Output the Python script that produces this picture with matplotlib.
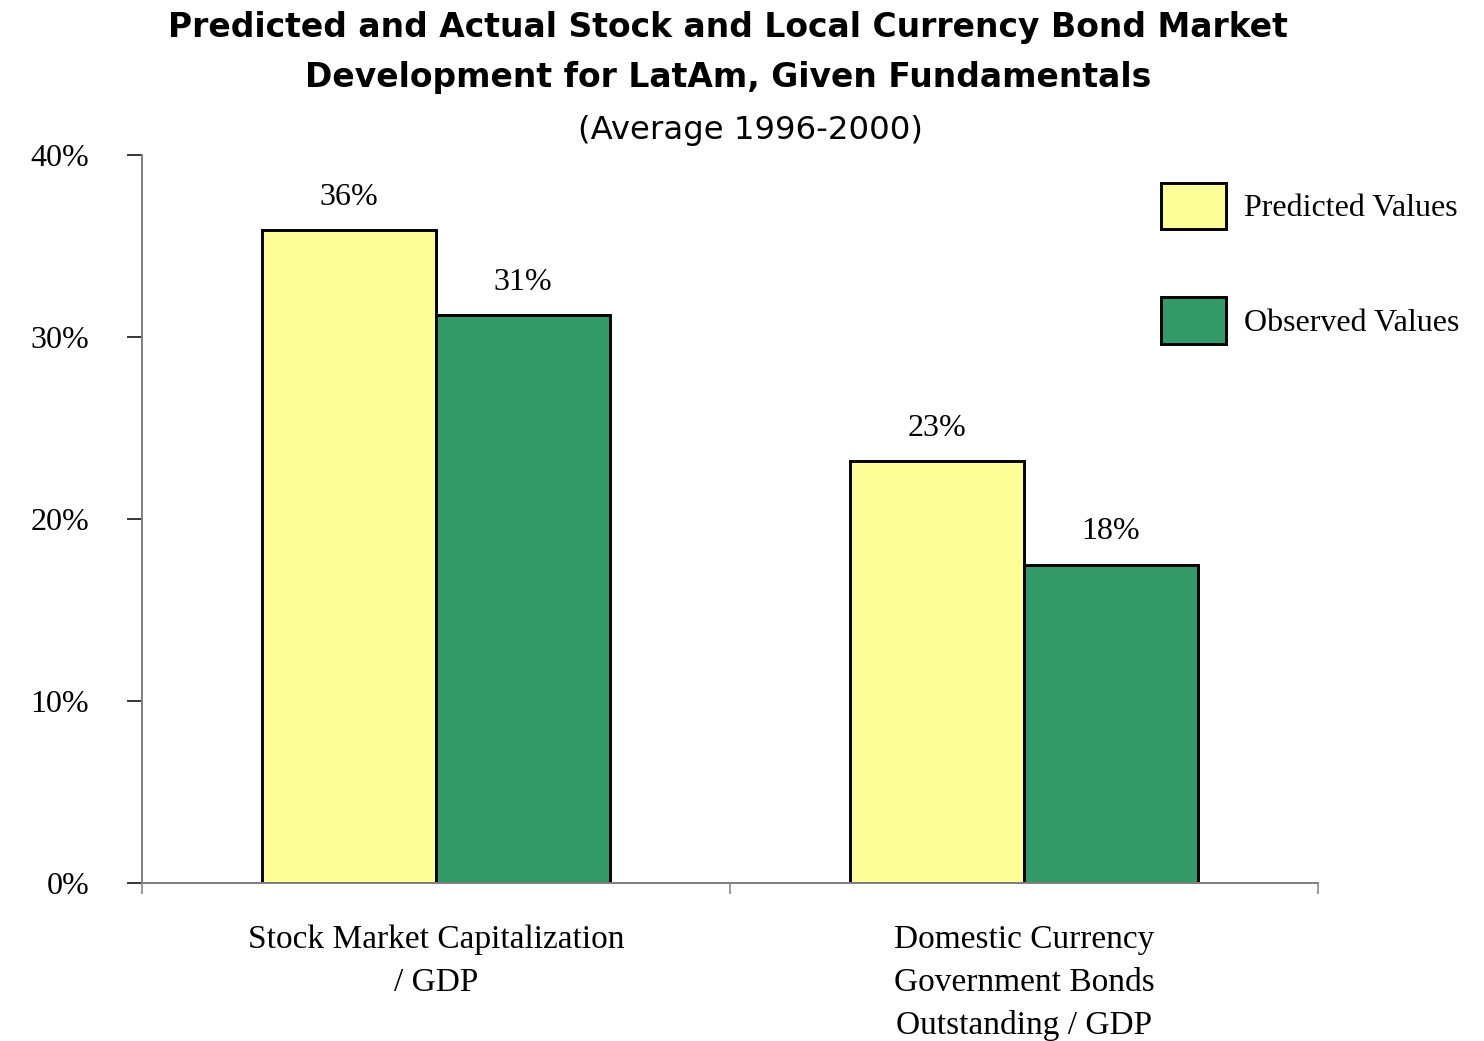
import matplotlib
matplotlib.use("Agg")
import matplotlib.pyplot as plt
import numpy as np

categories = ["Stock Market Capitalization\n/ GDP",
              "Domestic Currency\nGovernment Bonds\nOutstanding / GDP"]
predicted = [35.9, 23.2]
observed = [31.2, 17.5]
series_names = ["Predicted Values", "Observed Values"]
y_ticks = [0, 10, 20, 30, 40]
y_tick_labels = ["0%", "10%", "20%", "30%", "40%"]
title_lines = ["Predicted and Actual Stock and Local Currency Bond Market",
               "Development for LatAm, Given Fundamentals"]
subtitle = "(Average 1996-2000)"

serif = "Liberation Serif"
sans = "DejaVu Sans"
fig = plt.figure(figsize=(14.84, 10.41), dpi=100)
ax = fig.add_axes([142/1484, 1-883/1041, (1318-142)/1484, (883-155)/1041])

x = np.arange(len(categories))
w = 0.296
b1 = ax.bar(x - w/2, predicted, w, color="#FFFF99", edgecolor="black", linewidth=2.1, label=series_names[0])
b2 = ax.bar(x + w/2, observed, w, color="#339966", edgecolor="black", linewidth=2.1, label=series_names[1])

for bars in (b1, b2):
    ax.bar_label(bars, fmt="%.0f%%", padding=13, fontsize=23, family=serif)

ax.set_xlim(-0.5, len(categories) - 0.5)
ax.set_ylim(0, 40)
ax.set_yticks(y_ticks)
ax.set_yticklabels(y_tick_labels, family=serif, fontsize=23)
ax.tick_params(axis="y", direction="out", length=11, width=1.1, color="black", pad=27)

ax.set_xticks(np.arange(len(categories) + 1) - 0.5)
ax.set_xticklabels([])
ax.tick_params(axis="x", which="major", direction="out", length=8, width=1.1, color="#808080")
ax.set_xticks(x, minor=True)
ax.set_xticklabels(categories, minor=True, family=serif, fontsize=24, linespacing=1.52)
ax.tick_params(axis="x", which="minor", length=0, pad=30)

for s in ("top", "right"):
    ax.spines[s].set_visible(False)
for s in ("left", "bottom"):
    ax.spines[s].set_color("#808080")
    ax.spines[s].set_linewidth(1.4)

leg = fig.legend(handles=[b1, b2], labels=series_names, loc="upper left",
                 bbox_to_anchor=(1161/1484, 1-183/1041), frameon=False,
                 prop={"family": serif, "size": 23}, handlelength=2.03, handleheight=1.85,
                 labelspacing=2.13, handletextpad=0.56, borderpad=0, borderaxespad=0)

fig.text(728/1484, 1-27/1041, title_lines[0], ha="center", va="center", fontsize=23.8,
         fontweight="bold", family=sans)
fig.text(728/1484, 1-77/1041, title_lines[1], ha="center", va="center", fontsize=23.8,
         fontweight="bold", family=sans)
fig.text(751/1484, 1-130/1041, subtitle, ha="center", va="center", fontsize=23.3,
         family=sans)

fig.savefig("out.png", dpi=100)
